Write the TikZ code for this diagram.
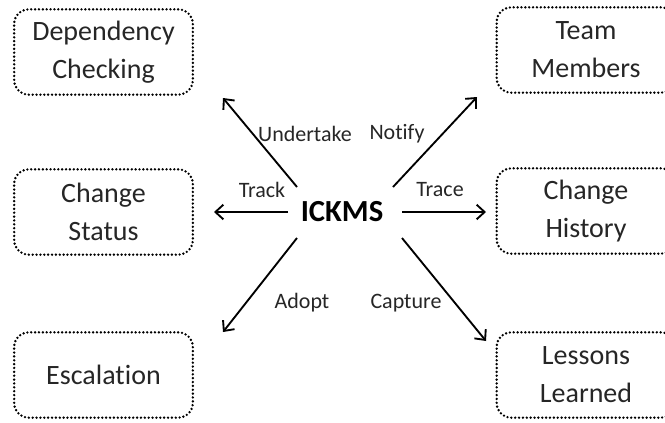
\documentclass[tikz,border=0pt]{standalone}
\usepackage{fontspec}
\setmainfont[Ligatures=NoCommon]{Carlito}
\usetikzlibrary{arrows.meta}
\tikzset{
  goalbox/.style={draw, rounded corners=11pt, line width=2pt, line cap=round,
    dash pattern=on 0pt off 2.9pt, minimum width=134pt, minimum height=64pt,
    align=center, text=black!85, font=\fontsize{21}{28.5}\selectfont},
  verb/.style={text=black!85, font=\fontsize{16.5}{19}\selectfont},
  flow/.style={-{Straight Barb[length=6pt,width=11pt]}, line width=1.4pt},
}
\begin{document}
\begin{tikzpicture}[x=0.75pt, y=-0.75pt]
    \useasboundingbox (0,0) rectangle (665,422);
    % the system in the middle
    \node[font=\fontsize{23}{26}\selectfont\bfseries] (ickms) at (342,212) {ICKMS};
    % boxes on the left
    \node[goalbox] (dep) at (103.5,52) {Dependency\\Checking};
    \node[goalbox] (status) at (103.5,212) {Change\\Status};
    \node[goalbox] (esc) at (103.5,375) {Escalation};
    % boxes on the right, cut at the edge
    \node[goalbox] (team) at (586,50) {Team\\Members};
    \node[goalbox] (history) at (586,211) {Change\\History};
    \node[goalbox] (lessons) at (586,375) {Lessons\\Learned};
    % ends of the arrows
    \coordinate (undertakeA) at (297,187);
    \coordinate (undertakeB) at (223,98);
    \coordinate (notifyA) at (393,187);
    \coordinate (notifyB) at (477,97);
    \coordinate (trackA) at (288,212);
    \coordinate (trackB) at (214,212);
    \coordinate (traceA) at (402,212);
    \coordinate (traceB) at (486,212);
    \coordinate (adoptA) at (297,238);
    \coordinate (adoptB) at (223,332);
    \coordinate (captureA) at (402,238);
    \coordinate (captureB) at (486,341);
    \draw[flow] (undertakeA) -- (undertakeB);
    \draw[flow] (notifyA) -- (notifyB);
    \draw[flow] (trackA) -- (trackB);
    \draw[flow] (traceA) -- (traceB);
    \draw[flow] (adoptA) -- (adoptB);
    \draw[flow] (captureA) -- (captureB);
    % labels
    \node[verb] (undertake) at (305,134) {Undertake};
    \node[verb] (notify) at (397,134) {Notify};
    \node[verb] (track) at (262,190) {Track};
    \node[verb] (trace) at (440,190) {Trace};
    \node[verb] (adopt) at (302,303) {Adopt};
    \node[verb] (capture) at (406,303) {Capture};
\end{tikzpicture}
\end{document}
